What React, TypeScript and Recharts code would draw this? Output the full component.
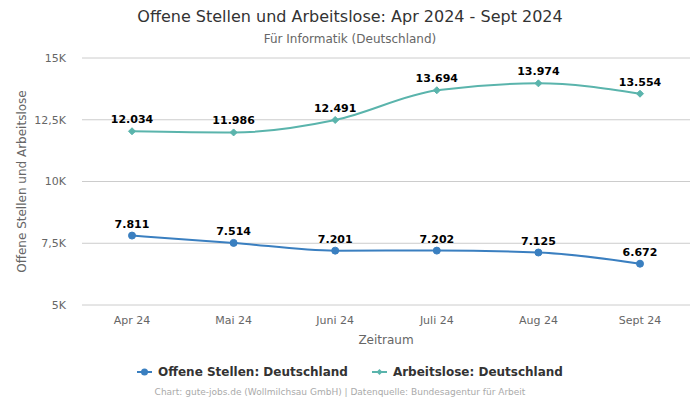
import React from 'react';
import { LineChart, Line, XAxis, YAxis, CartesianGrid, LabelList } from 'recharts';

const categories = ['Apr 24', 'Mai 24', 'Juni 24', 'Juli 24', 'Aug 24', 'Sept 24'];
const offeneStellen = [7811, 7514, 7201, 7202, 7125, 6672];
const arbeitslose = [12034, 11986, 12491, 13694, 13974, 13554];
const yTicks = [5000, 7500, 10000, 12500, 15000];

const data = categories.map((c, i) => ({ name: c, offen: offeneStellen[i], arbeitslos: arbeitslose[i] }));

const BLUE = '#3a7fc0';
const TEAL = '#5ab4ac';
const FONT = '"DejaVu Sans", sans-serif';

const fmtK = (v: number) => (v / 1000).toString().replace('.', ',') + 'K';
const fmtNum = (v: number) => v.toLocaleString('de-DE');

const Diamond = (props: any) => {
  const { cx, cy } = props;
  if (cx == null || cy == null) return null;
  const r = 3.5;
  return <path d={`M${cx},${cy - r}L${cx + r},${cy}L${cx},${cy + r}L${cx - r},${cy}Z`} fill={TEAL} stroke={TEAL} />;
};

const YLabel = (props: any) => {
  const vb = props.viewBox || {};
  const x = 22;
  const y = (vb.y ?? 58) + (vb.height ?? 247) / 2;
  return (
    <text x={x} y={y} transform={`rotate(-90 ${x} ${y})`} textAnchor="middle" dominantBaseline="central" fontSize={12} fill="#666" fontFamily={FONT}>
      Offene Stellen und Arbeitslose
    </text>
  );
};

export default function App() {
  return (
    <div style={{ position: 'absolute', left: 0, top: 0, width: 700, height: 400, fontFamily: FONT, background: '#fff' }}>
      <div style={{ position: 'absolute', top: 7, width: 700, textAlign: 'center', fontSize: 16, color: '#333' }}>
        Offene Stellen und Arbeitslose: Apr 2024 - Sept 2024
      </div>
      <div style={{ position: 'absolute', top: 32, width: 700, textAlign: 'center', fontSize: 12, color: '#666' }}>
        Für Informatik (Deutschland)
      </div>
      <LineChart width={700} height={400} data={data} margin={{ top: 58, right: 10, left: 0, bottom: 45 }}>
        <CartesianGrid vertical={false} stroke="#cccccc" />
        <XAxis
          dataKey="name"
          padding={{ left: 50, right: 50 }}
          axisLine={false}
          tickLine={false}
          tick={{ fontSize: 11, fill: '#666', fontFamily: FONT }}
          tickMargin={5}
          height={50}
          label={{ value: 'Zeitraum', position: 'insideBottom', offset: 11, fontSize: 12, fill: '#666', fontFamily: FONT }}
        />
        <YAxis
          domain={[5000, 15000]}
          ticks={yTicks}
          tickFormatter={fmtK}
          axisLine={false}
          tickLine={false}
          width={82}
          tick={{ fontSize: 11, fill: '#666', fontFamily: FONT }}
          tickMargin={10}
          label={<YLabel />}
        />
        <Line
          type="monotone"
          dataKey="offen"
          stroke={BLUE}
          strokeWidth={2}
          dot={{ r: 3.5, fill: BLUE, stroke: BLUE, strokeWidth: 1 }}
          isAnimationActive={false}
        >
          <LabelList dataKey="offen" position="top" offset={8} formatter={fmtNum as any} style={{ fontSize: 11, fontWeight: 'bold', fill: '#000', fontFamily: FONT }} />
        </Line>
        <Line
          type="monotone"
          dataKey="arbeitslos"
          stroke={TEAL}
          strokeWidth={2}
          dot={<Diamond />}
          isAnimationActive={false}
        >
          <LabelList dataKey="arbeitslos" position="top" offset={8} formatter={fmtNum as any} style={{ fontSize: 11, fontWeight: 'bold', fill: '#000', fontFamily: FONT }} />
        </Line>
      </LineChart>
      <div style={{ position: 'absolute', top: 365, width: 700, display: 'flex', justifyContent: 'center', gap: 24, fontSize: 12, fontWeight: 'bold', color: '#333' }}>
        <div style={{ display: 'flex', alignItems: 'center' }}>
          <svg width={15} height={10} style={{ marginRight: 6 }}>
            <line x1={0} y1={5} x2={15} y2={5} stroke={BLUE} strokeWidth={2} />
            <circle cx={7.5} cy={5} r={3.5} fill={BLUE} />
          </svg>
          Offene Stellen: Deutschland
        </div>
        <div style={{ display: 'flex', alignItems: 'center' }}>
          <svg width={15} height={10} style={{ marginRight: 6 }}>
            <line x1={0} y1={5} x2={15} y2={5} stroke={TEAL} strokeWidth={2} />
            <path d="M7.5,2L10.5,5L7.5,8L4.5,5Z" fill={TEAL} />
          </svg>
          Arbeitslose: Deutschland
        </div>
      </div>
      <div style={{ position: 'absolute', top: 387, left: -10, width: 700, textAlign: 'center', fontSize: 9, color: '#aaa' }}>
        Chart: gute-jobs.de (Wollmilchsau GmbH) | Datenquelle: Bundesagentur für Arbeit
      </div>
    </div>
  );
}
